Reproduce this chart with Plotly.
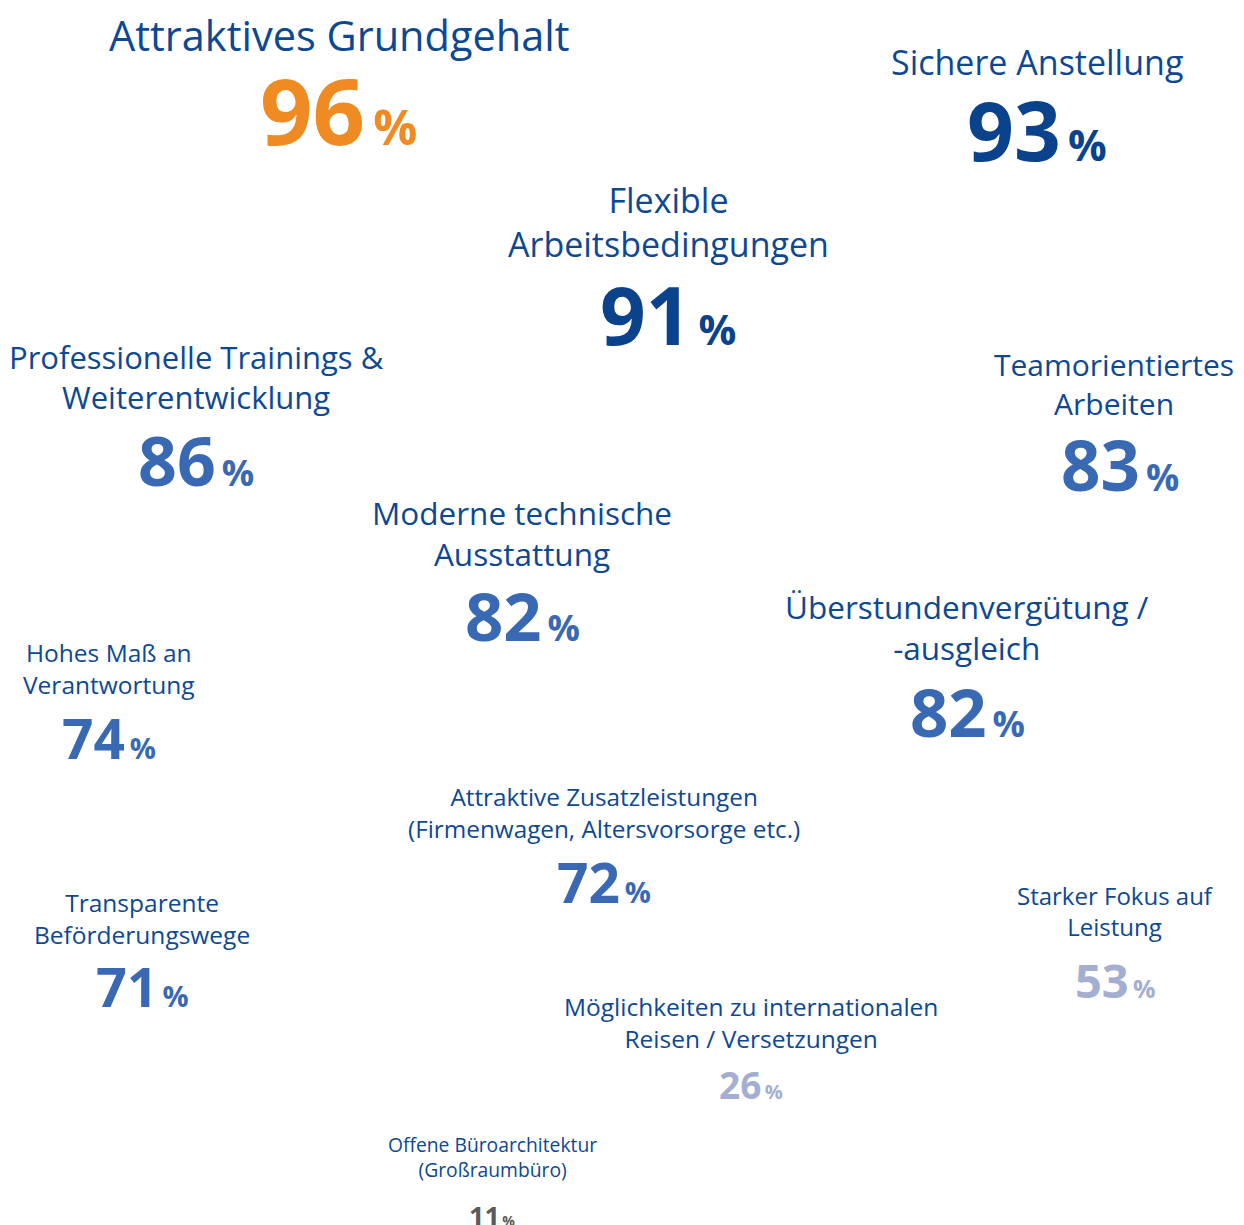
import plotly.graph_objects as go

# survey answers: label and share in percent
labels = [
    "Attraktives Grundgehalt",
    "Sichere Anstellung",
    "Flexible<br>Arbeitsbedingungen",
    "Professionelle Trainings &<br>Weiterentwicklung",
    "Teamorientiertes<br>Arbeiten",
    "Moderne technische<br>Ausstattung",
    "Überstundenvergütung /<br>-ausgleich",
    "Hohes Maß an<br>Verantwortung",
    "Attraktive Zusatzleistungen<br>(Firmenwagen, Altersvorsorge etc.)",
    "Transparente<br>Beförderungswege",
    "Starker Fokus auf<br>Leistung",
    "Möglichkeiten zu internationalen<br>Reisen / Versetzungen",
    "Offene Büroarchitektur<br>(Großraumbüro)",
]
values = [96, 93, 91, 86, 83, 82, 82, 74, 72, 71, 53, 26, 11]

# layout of the cloud (page pixels, y downwards)
x_label = [339, 1037, 668, 196, 1114, 522, 967, 109, 604, 142, 1115, 751, 492]
x_value = [339, 1037, 668, 196, 1120, 522, 967, 109, 604, 142, 1115, 751, 492]
y_label = [35, 62, 222, 377, 384, 533, 627, 668, 812, 918, 911, 1022, 1157]
y_value = [109, 129, 313, 459, 464, 615, 711, 737, 881, 986, 980, 1084, 1215]
label_size = [41.5, 34, 34, 31, 30, 31.5, 31.5, 24.5, 24.3, 24.5, 24, 24.5, 19.3]
value_size = [92, 82, 80, 68, 69, 67, 67, 55, 55, 54, 47, 37, 27]
value_color = ["#f08a22", "#0a428c", "#0a428c", "#3a69b4", "#3a69b4", "#3a69b4",
               "#3a69b4", "#3a69b4", "#3a69b4", "#3a69b4", "#a3aed1", "#a3aed1", "#5a5a5a"]

LABEL_COLOR = "#0d4893"
FONT = "Open Sans"
PAGE_MARGIN = 8  # default body margin of the html page

fig = go.Figure()
fig.add_trace(go.Scatter(x=[PAGE_MARGIN, 1244], y=[PAGE_MARGIN, 1225], mode="markers",
                         marker=dict(opacity=0), hoverinfo="skip", showlegend=False))

for lab, val, xl, xv, yl, yv, ls, vs, col in zip(labels, values, x_label, x_value, y_label,
                                                 y_value, label_size, value_size, value_color):
    fig.add_annotation(x=xl, y=yl, text=lab, showarrow=False, xanchor="center", yanchor="middle",
                       font=dict(family=FONT, size=ls, color=LABEL_COLOR))
    pct = round(vs * 0.53)
    fig.add_annotation(x=xv, y=yv, showarrow=False, xanchor="center", yanchor="middle",
                       text=f"<b>{val}</b><span style='font-size:{pct}px'><b>\u2009%</b></span>",
                       font=dict(family=FONT, size=vs, color=col))

fig.update_xaxes(range=[PAGE_MARGIN, 1244], visible=False)
fig.update_yaxes(range=[1225, PAGE_MARGIN], visible=False)
fig.update_layout(width=1244 - PAGE_MARGIN, height=1225 - PAGE_MARGIN,
                  margin=dict(l=0, r=0, t=0, b=0),
                  plot_bgcolor="white", paper_bgcolor="white", showlegend=False)

fig.write_html("out.html")
